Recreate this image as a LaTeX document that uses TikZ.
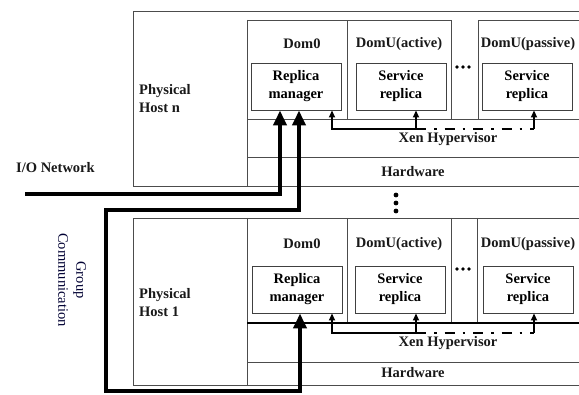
\documentclass[tikz,border=0pt]{standalone}
\usepackage{fontspec}
\setmainfont{Liberation Serif}
\usetikzlibrary{arrows.meta}
\begin{document}
\begin{tikzpicture}[x=1pt,y=-1pt,
  lbl/.style={font=\fontsize{14.5}{18}\selectfont\bfseries, text=black!90, inner sep=0pt, align=center},
  inbox/.style={draw=black!75, line width=0.9pt, minimum width=90pt, minimum height=47pt, inner sep=0pt, align=center, font=\fontsize{14.5}{18}\selectfont\bfseries},
  frame/.style={draw=black!70, line width=0.9pt},
  bigarrow/.style={line width=4pt, line join=miter, -{Triangle[length=15pt,width=13pt]}},
  bigboth/.style={line width=4pt, line join=miter, {Triangle[length=15pt,width=13pt]}-{Triangle[length=15pt,width=13pt]}},
  smallarrow/.style={line width=1.8pt, -{Triangle[length=7pt,width=6pt]}},
  dashdot/.style={line width=1.8pt, dash pattern=on 10pt off 8pt on 2.5pt off 8pt}
]
\useasboundingbox (0,0) rectangle (579,395);
\clip (0,0) rectangle (579,395);
\fill[white] (0,0) rectangle (579,395);

% ---------- Host n ----------
\draw[frame] (133,11) rectangle (600,186);
\draw[frame] (247,20) -- (247,186);
\draw[frame] (247,20) -- (347,20) -- (347,119);
\draw[frame] (347,20) -- (451,20) -- (451,119);
\draw[frame] (478,119) -- (478,20) -- (600,20);
\draw[frame] (247,119) -- (600,119);
\draw[frame] (247,157) -- (600,157);

\node[lbl, anchor=west, align=left] (phn) at (139,99) {Physical\\Host n};
\node[lbl] (d0n) at (302,44) {Dom0};
\node[lbl] (dan) at (399,44) {DomU(active)};
\node[lbl] (dpn) at (528,44) {DomU(passive)};
\node[inbox] (rmn) at (296,86.5) {Replica\\manager};
\node[inbox] (sran) at (401,86.5) {Service\\replica};
\node[inbox] (srpn) at (527,86.5) {Service\\replica};
\node[lbl] (xenn) at (448,139) {Xen Hypervisor};
\node[lbl] (hwn) at (413,172) {Hardware};
\foreach \xx in {457,463,469} \fill (\xx,67) circle (1.8);

\coordinate (an) at (332,129);
\coordinate (hn) at (416,129);
\coordinate (pn) at (534,129);
\draw[smallarrow] (hn) -- (an) -- (an |- rmn.south);
\draw[smallarrow] (hn) -- (hn |- sran.south);
\draw[dashdot] (hn) -- (pn);
\draw[smallarrow] (pn) -- (pn |- srpn.south);

% ---------- vertical dots ----------
\foreach \yy in {195,203,211} \fill (396,\yy) circle (2.4);

% ---------- Host 1 ----------
\draw[frame] (133,218) rectangle (600,385);
\draw[frame] (247,218) -- (247,385);
\draw[frame] (347,218) -- (347,323);
\draw[frame] (451,218) -- (451,323);
\draw[frame] (477,218) -- (477,323);
\draw[line width=1.8pt] (247,323) -- (600,323);
\draw[frame] (247,362) -- (600,362);

\node[lbl, anchor=west, align=left] (ph1) at (139,303) {Physical\\Host 1};
\node[lbl] (d01) at (302,244) {Dom0};
\node[lbl] (da1) at (399,244) {DomU(active)};
\node[lbl] (dp1) at (528,244) {DomU(passive)};
\node[inbox] (rm1) at (297,289.5) {Replica\\manager};
\node[inbox] (sra1) at (400,289.5) {Service\\replica};
\node[inbox] (srp1) at (528,289.5) {Service\\replica};
\node[lbl] (xen1) at (448,343) {Xen Hypervisor};
\node[lbl] (hw1) at (413,373) {Hardware};
\foreach \xx in {457,463,469} \fill (\xx,269) circle (1.8);

\coordinate (a1) at (332,333);
\coordinate (h1) at (416,333);
\coordinate (p1) at (534,333);
\draw[smallarrow] (h1) -- (a1) -- (a1 |- rm1.south);
\draw[smallarrow] (h1) -- (h1 |- sra1.south);
\draw[dashdot] (h1) -- (p1);
\draw[smallarrow] (p1) -- (p1 |- srp1.south);

% ---------- networks ----------
\node[lbl, anchor=west] (io) at (16,168) {I/O Network};
\node[lbl, rotate=-90, font=\fontsize{14.5}{18}\selectfont, text=black!80!blue] (gc) at (72,280) {Group\\Communication};

\coordinate (ios) at (25,194);
\coordinate (ioc) at (280,194);
\draw[bigarrow] (ios) -- (ioc) -- (ioc |- rmn.south);

\coordinate (g1) at (299,210);
\coordinate (g2) at (106,210);
\coordinate (g3) at (106,391);
\coordinate (g4) at (300,391);
\draw[bigboth] (g1 |- rmn.south) -- (g1) -- (g2) -- (g3) -- (g4) -- (g4 |- rm1.south);
\end{tikzpicture}
\end{document}
